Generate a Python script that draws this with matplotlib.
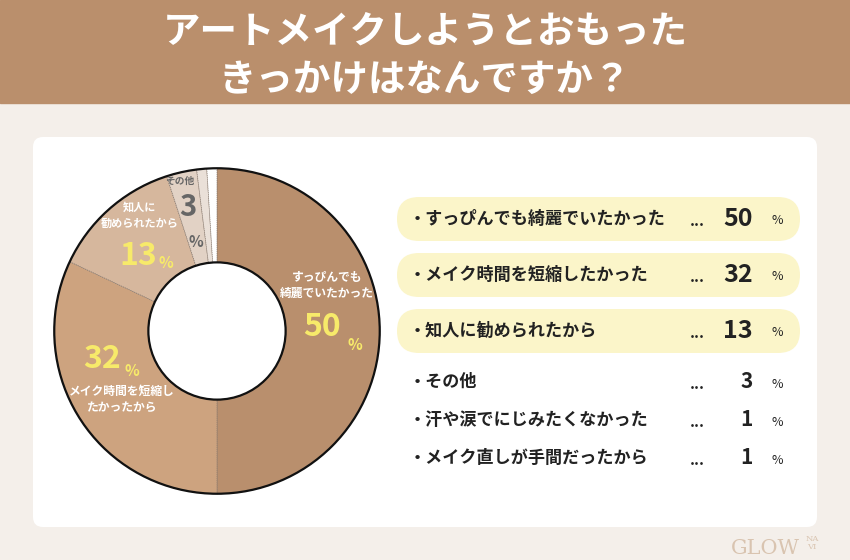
import matplotlib.pyplot as plt
from matplotlib.patches import Rectangle, FancyBboxPatch, Circle

plt.rcParams['font.family'] = ['Noto Sans CJK JP', 'DejaVu Sans']

# data
labels = ['すっぴんでも綺麗でいたかった', 'メイク時間を短縮したかった', '知人に勧められたから',
          'その他', '汗や涙でにじみたくなかった', 'メイク直しが手間だったから']
values = [50, 32, 13, 3, 1, 1]
donut_labels = ['すっぴんでも\n綺麗でいたかった', 'メイク時間を短縮し\nたかったから', '知人に\n勧められたから',
                'その他', '', '']
slice_colors = ['#B98F6D', '#CDA37F', '#D6B79D', '#E2D2C5', '#EAE0D8', '#FFFFFF']
title_lines = ['アートメイクしようとおもった', 'きっかけはなんですか？']

W, H = 850, 560
fig = plt.figure(figsize=(W / 100, H / 100), dpi=100)
fig.patch.set_facecolor('#F4EFEA')

bg = fig.add_axes([0, 0, 1, 1])
bg.set_xlim(0, W)
bg.set_ylim(H, 0)
bg.axis('off')

# header band
bg.add_patch(Rectangle((0, 0), W, 103, color='#BA8F6C', zorder=1))
bg.text(W / 2, 31, title_lines[0], color='white', fontsize=27, fontweight='bold',
        ha='center', va='center', zorder=2)
bg.text(W / 2, 79, title_lines[1], color='white', fontsize=27, fontweight='bold',
        ha='center', va='center', zorder=2)

# white card
bg.add_patch(FancyBboxPatch((33, 137), 784, 390, boxstyle='round,pad=0,rounding_size=10',
                            facecolor='white', edgecolor='none', zorder=1))

# right hand list
row_y = [219, 275, 331, 382, 420, 458]
for i, (lab, v) in enumerate(zip(labels, values)):
    y = row_y[i]
    if i < 3:
        bg.add_patch(FancyBboxPatch((397, y - 22), 403, 44, boxstyle='round,pad=0,rounding_size=22',
                                    facecolor='#FBF5C9', edgecolor='none', zorder=2))
        nsize = 18
    else:
        nsize = 15
    bg.text(409, y, '・' + lab, fontsize=12.3, fontweight='bold', color='#222222',
            ha='left', va='center', zorder=3)
    bg.text(697, y + 2, '...', fontsize=11, fontweight='bold', color='#222222',
            ha='center', va='center', zorder=3)
    bg.text(753, y, str(v), fontsize=nsize, fontweight='bold', color='#222222',
            ha='right', va='center', zorder=3)
    bg.text(777, y + 2, '%', fontsize=9, color='#222222', ha='center', va='center', zorder=3)

# watermark
bg.text(765, 548, 'GLOW', fontsize=15, color='#D9C4B0', family='DejaVu Serif',
        ha='center', va='center', zorder=2)
bg.text(812, 543, 'NA\nVI', fontsize=6, color='#D9C4B0', family='DejaVu Serif',
        ha='center', va='center', linespacing=0.9, zorder=2)

# donut
cx, cy, r_out, r_in = 217, 331, 166, 70
ax = fig.add_axes([(cx - r_out) / W, (H - cy - r_out) / H, 2 * r_out / W, 2 * r_out / H])
wedges, _ = ax.pie(values, colors=slice_colors, startangle=90, counterclock=False, radius=1,
                   wedgeprops=dict(width=(r_out - r_in) / r_out, edgecolor='#8A7A6E',
                                   linewidth=0.5, linestyle=(0, (2, 1))))
ax.add_patch(Circle((0, 0), 1, fill=False, edgecolor='#111111', linewidth=1.6, zorder=5))
ax.add_patch(Circle((0, 0), r_in / r_out, fill=False, edgecolor='#111111', linewidth=1.6, zorder=5))
ax.set_xlim(-1.02, 1.02)
ax.set_ylim(-1.02, 1.02)
ax.set_aspect('equal')
ax.axis('off')

# overlay for labels inside donut (pixel coords)
top = fig.add_axes([0, 0, 1, 1], label='overlay')
top.set_xlim(0, W)
top.set_ylim(H, 0)
top.axis('off')
top.patch.set_alpha(0)

yellow = '#F7EA6A'
top.text(327, 285, donut_labels[0], color='white', fontsize=8.5, fontweight='bold',
         ha='center', va='center', linespacing=1.3)
top.text(322, 327, str(values[0]), color=yellow, fontsize=23, fontweight='bold',
         ha='center', va='center')
top.text(355, 345, '%', color=yellow, fontsize=11, fontweight='bold', ha='center', va='center')

top.text(102, 359, str(values[1]), color=yellow, fontsize=23, fontweight='bold',
         ha='center', va='center')
top.text(132, 371, '%', color=yellow, fontsize=11, fontweight='bold', ha='center', va='center')
top.text(122, 399, donut_labels[1], color='white', fontsize=8.5, fontweight='bold',
         ha='center', va='center', linespacing=1.3)

top.text(140, 215, donut_labels[2], color='white', fontsize=8, fontweight='bold',
         ha='center', va='center', linespacing=1.3)
top.text(138, 256, str(values[2]), color=yellow, fontsize=23, fontweight='bold',
         ha='center', va='center')
top.text(166, 263, '%', color=yellow, fontsize=11, fontweight='bold', ha='center', va='center')

top.text(180, 181, donut_labels[3], color='#666666', fontsize=7, fontweight='bold',
         ha='center', va='center')
top.text(188, 207, str(values[3]), color='#666666', fontsize=21, fontweight='bold',
         ha='center', va='center')
top.text(196, 242, '%', color='#666666', fontsize=11, fontweight='bold', ha='center', va='center')

fig.savefig('out.png', dpi=100, facecolor=fig.get_facecolor())
